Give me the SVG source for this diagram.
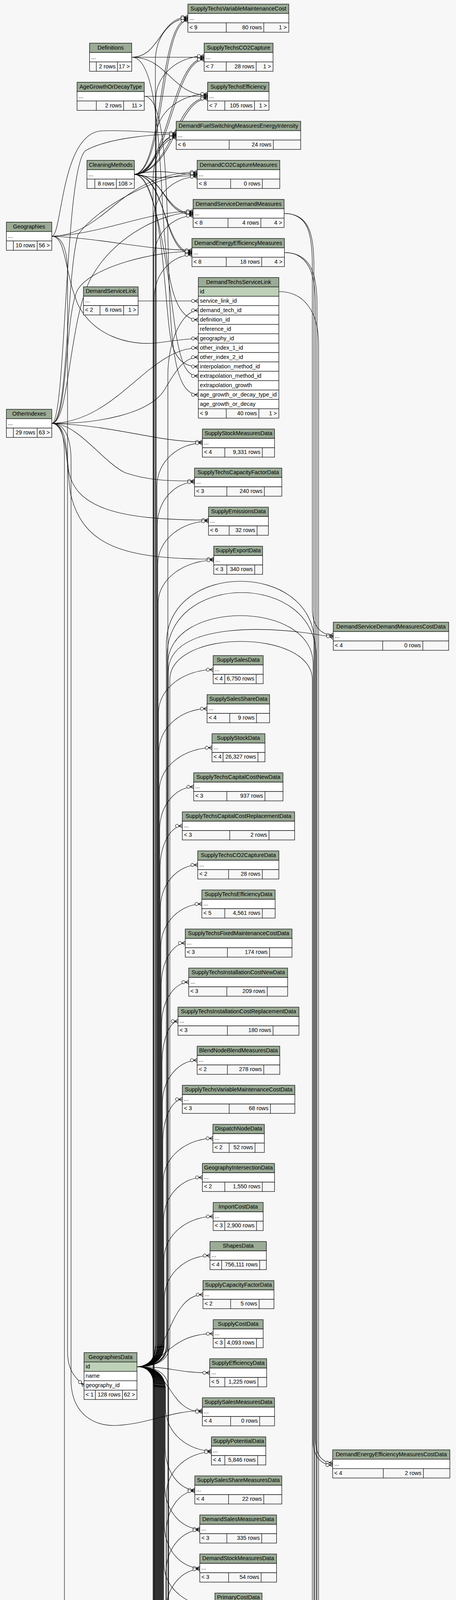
<svg xmlns="http://www.w3.org/2000/svg" width="1168" height="6985" viewBox="0 0 1168 6985">
<style>
text{font-family:"Liberation Sans",Arial,Helvetica,sans-serif;font-size:14.4px;fill:#000}
.c{text-anchor:middle}.e{text-anchor:end}
.t rect,.t path{stroke:#000;stroke-width:1.2}
.t path{fill:none}
.h{fill:#9bab96}.r{fill:#fff}.k{fill:#bed1b8}.f{fill:#f7f7f7}
.t .b{fill:none;stroke-width:3}
.l path{fill:none;stroke:#000;stroke-width:1.1;marker-end:url(#m)}
</style>
<defs>
<marker id="m" viewBox="-20 -8 21 16" refX="0" refY="0" markerWidth="21" markerHeight="16" markerUnits="userSpaceOnUse" orient="auto">
<path d="M-9 0L0 -5M-9 0L0 0M-9 0L0 5" fill="none" stroke="#000" stroke-width="1.2"/>
<circle cx="-13.5" cy="0" r="4" fill="#fff" stroke="#000" stroke-width="1.1"/>
</marker>
</defs>
<rect width="1168" height="6985" fill="#f7f7f7"/>
<g id="connectors" class="l">
<path d="M337.4 146.5C410 146.5 410 43.5 481.2 43.5"/>
<path d="M337.4 146.5L522.9 146.5"/>
<path d="M337.4 146.5C430 146.5 440 243.5 531.8 243.5"/>
<path d="M337.4 146.5C390 146.5 405 300 415 500C425 700 440 818.5 508 818.5"/>
<path d="M369.5 246.5L531.8 246.5"/>
<path d="M369.5 246.5C415 246.5 425 400 430 600C435 850 440 1010.5 508 1010.5"/>
<path d="M344.1 446.5C420 440 405 49.5 481.2 49.5"/>
<path d="M344.1 446.5C425 440 410 52.5 481.2 52.5"/>
<path d="M344.1 446.5C430 440 440 149.5 522.9 149.5"/>
<path d="M344.1 446.5C435 440 445 152.5 522.9 152.5"/>
<path d="M344.1 446.5C440 440 450 249.5 531.8 249.5"/>
<path d="M344.1 446.5C445 440 455 252.5 531.8 252.5"/>
<path d="M344.1 446.5C400 446.5 400 346.5 451.4 346.5"/>
<path d="M344.1 446.5C405 446.5 395 349.5 451.4 349.5"/>
<path d="M344.1 446.5C420 430 440 446.5 505 446.5"/>
<path d="M344.1 446.5C420 462 440 449.5 505 449.5"/>
<path d="M344.1 446.5C420 446.5 420 546.5 494.6 546.5"/>
<path d="M344.1 446.5C425 446.5 415 549.5 494.6 549.5"/>
<path d="M344.1 446.5C425 446.5 420 646.5 491.6 646.5"/>
<path d="M344.1 446.5C430 446.5 415 649.5 491.6 649.5"/>
<path d="M344.1 446.5C420 446.5 420 800 440 880C455 930 480 938.5 508 938.5"/>
<path d="M344.1 446.5C400 446.5 430 700 450 850C465 940 480 962.5 508 962.5"/>
<path d="M132.6 604.7C160 604.7 155 340.5 261 335C330 332 400 340.5 451.4 340.5"/>
<path d="M132.6 604.7C200 604.7 250 560 300 520C370 462 440 440.5 505 440.5"/>
<path d="M132.6 604.7C260 600 380 540.5 494.6 540.5"/>
<path d="M132.6 604.7C260 610 380 640.5 491.6 640.5"/>
<path d="M132.6 604.7C170 604.7 165 700 200 780C240 860 330 885 400 878C450 872 480 866.5 508 866.5"/>
<path d="M132.6 1083.8C170 1083.8 165 420 220 385C280 352 400 343.5 451.4 343.5"/>
<path d="M132.6 1083.8C175 1083.8 170 700 200 600C260 520 420 443.5 505 443.5"/>
<path d="M132.6 1083.8C180 1083.8 175 800 240 700C300 600 420 543.5 494.6 543.5"/>
<path d="M132.6 1083.8C175 1083.8 165 800 200 740C240 680 400 643.5 491.6 643.5"/>
<path d="M132.6 1083.8C300 1080 380 890.5 508 890.5"/>
<path d="M132.6 1083.8C250 1085 380 1060 420 1000C450 950 470 914.5 508 914.5"/>
<path d="M132.6 1083.8C300 1090 400 1131.3 518.4 1131.3"/>
<path d="M132.6 1083.8C200 1083.8 260 1180 320 1210C380 1231 440 1231.3 498.3 1231.3"/>
<path d="M132.6 1083.8C170 1083.8 170 1150 175 1200C190 1300 300 1331.3 534.1 1331.3"/>
<path d="M132.6 1083.8C172 1083.8 172 1200 180 1260C210 1400 320 1431.3 547.5 1431.3"/>
<path d="M132.6 1083.8C165 1083.8 182 1120 182 1180V3540C186 3620 240 3652 300 3649C380 3645 440 3611.3 518.4 3611.3"/>
<path d="M132.6 604.7C160 604.7 173 640 173 700V3460C173 3510 195 3530 215.3 3546.7"/>
<path d="M132.6 1083.8C155 1083.8 165 1110 165 1170V5420C165 5470 195 5495 215.3 5511.2"/>
<path d="M353.8 770.5L508 770.5"/>
<path d="M350.8 3498.7Q398 3498.7 398 3438.7V156.5c0 -65 41.6 -110 83.2 -110"/>
<path d="M350.8 3498.7Q399 3498.7 399 3438.7V253.5c0 -65 62 -110 123.9 -110"/>
<path d="M350.8 3498.7Q400 3498.7 400 3438.7V350.5c0 -65 65.9 -110 131.8 -110"/>
<path d="M350.8 3498.7Q402 3498.7 402 3438.7V1244.3c0 -65 58.2 -110 116.4 -110"/>
<path d="M350.8 3498.7Q403 3498.7 403 3438.7V1344.3c0 -65 47.7 -110 95.3 -110"/>
<path d="M350.8 3498.7Q404 3498.7 404 3438.7V1444.3c0 -65 65 -110 130.1 -110"/>
<path d="M350.8 3498.7Q405 3498.7 405 3438.7V1544.3c0 -65 71.3 -110 142.5 -110"/>
<path d="M350.8 3498.7Q406 3498.7 406 3438.7V1824.3c0 -65 70 -110 140 -110"/>
<path d="M350.8 3498.7Q407 3498.7 407 3438.7V1924.3c0 -65 61.7 -110 123.4 -110"/>
<path d="M350.8 3498.7Q408 3498.7 408 3438.7V2024.3c0 -65 67.5 -110 135 -110"/>
<path d="M350.8 3498.7Q409 3498.7 409 3438.7V2124.3c0 -65 43.6 -110 87.1 -110"/>
<path d="M350.8 3498.7Q410 3498.7 410 3438.7V2224.3c0 -65 28.5 -110 57 -110"/>
<path d="M350.8 3498.7Q411 3498.7 411 3438.7V2324.3c0 -65 47.8 -110 95.5 -110"/>
<path d="M350.8 3498.7Q412 3498.7 412 3438.7V2424.3c0 -65 52.5 -110 105 -110"/>
<path d="M350.8 3498.7Q413 3498.7 413 3438.7V2524.3c0 -65 30.8 -110 61.5 -110"/>
<path d="M350.8 3498.7Q414 3498.7 414 3438.7V2624.3c0 -65 34.7 -110 69.4 -110"/>
<path d="M350.8 3498.7Q415 3498.7 415 3438.7V2724.3c0 -65 20.5 -110 40.9 -110"/>
<path d="M350.8 3498.7Q416 3498.7 416 3438.7V2824.3c0 -65 44.5 -110 89 -110"/>
<path d="M350.8 3498.7Q417 3498.7 417 3438.7V2924.3c0 -65 25 -110 50 -110"/>
<path d="M350.8 3498.7Q418 3498.7 418 3438.7V3024.3c0 -65 63.7 -110 127.3 -110"/>
<path d="M350.8 3498.7Q419 3498.7 419 3438.7V3124.3c0 -65 49.7 -110 99.4 -110"/>
<path d="M350.8 3498.7Q420 3498.7 420 3438.7V3224.3c0 -65 63 -110 126 -110"/>
<path d="M350.8 3498.7Q421 3498.7 421 3438.7V3324.3c0 -65 58.4 -110 116.8 -110"/>
<path d="M350.8 3498.7C430 3498.7 430 3314.3 519.9 3314.3"/>
<path d="M350.8 3498.7C420 3498.7 430 3414.3 546 3414.3"/>
<path d="M350.8 3498.7C440 3498.7 450 3514.3 537 3514.3"/>
<path d="M350.8 3498.7C440 3498.7 430 3614.3 518.4 3614.3"/>
<path d="M350.8 3498.7Q424 3498.7 424 3558.7V3604.3c0 65 58.8 110 117.5 110"/>
<path d="M350.8 3498.7Q423 3498.7 423 3558.7V3704.3c0 65 38 110 76 110"/>
<path d="M350.8 3498.7Q422 3498.7 422 3558.7V3804.3c0 65 44.9 110 89.7 110"/>
<path d="M350.8 3498.7Q421 3498.7 421 3558.7V3904.3c0 65 45.4 110 90.7 110"/>
<path d="M350.8 3498.7Q420 3498.7 420 3558.7V4004.3c0 65 65.3 110 130.5 110"/>
<path d="M350.8 3498.7Q419 3498.7 419 3558.7V4104.3c0 65 48.3 110 96.5 110"/>
<path d="M350.8 3498.7Q418 3498.7 418 3558.7V4204.3c0 65 42.8 110 85.5 110"/>
<path d="M350.8 3498.7Q417 3498.7 417 3558.7V4304.3c0 65 44.8 110 89.5 110"/>
<path d="M350.8 3498.7Q416 3498.7 416 3558.7V4404.3c0 65 25.9 110 51.8 110"/>
<path d="M350.8 3498.7Q415 3498.7 415 3558.7V4504.3c0 65 24.5 110 49 110"/>
<path d="M350.8 3498.7Q414 3498.7 414 3558.7V4604.3c0 65 10.2 110 20.3 110"/>
<path d="M350.8 3498.7Q413 3498.7 413 3558.7V4704.3c0 65 28.2 110 56.3 110"/>
<path d="M350.8 3498.7Q412 3498.7 412 3558.7V4804.3c0 65 13.8 110 27.5 110"/>
<path d="M350.8 3498.7Q411 3498.7 411 3558.7V4904.3c0 65 64.5 110 129 110"/>
<path d="M350.8 3498.7Q410 3498.7 410 3558.7V5004.3c0 65 49 110 98 110"/>
<path d="M350.8 3498.7Q409 3498.7 409 3558.7V5104.3c0 65 30.9 110 61.8 110"/>
<path d="M350.8 3498.7Q408 3498.7 408 3558.7V5204.3c0 65 13.9 110 27.8 110"/>
<path d="M350.8 3498.7Q407 3498.7 407 3558.7V5304.3c0 65 28.5 110 57 110"/>
<path d="M350.8 3498.7Q406 3498.7 406 3558.7V5404.3c0 65 42.5 110 84.9 110"/>
<path d="M350.8 3498.7Q405 3498.7 405 3558.7V5504.3c0 65 47 110 94 110"/>
<path d="M350.8 3498.7Q404 3498.7 404 3558.7V5604.3c0 65 43.5 110 86.9 110"/>
<path d="M350.8 3498.7Q403 3498.7 403 3558.7V5984.3c0 65 70.4 110 140.8 110"/>
<path d="M350.8 3498.7Q402 3498.7 402 3558.7V6084.3c0 65 38.1 110 76.2 110"/>
<path d="M350.8 3498.7Q401 3498.7 401 3558.7V6184.3c0 65 24.1 110 48.2 110"/>
<path d="M350.8 3498.7Q400 3498.7 400 3558.7V6284.3c0 65 48.1 110 96.1 110"/>
<path d="M350.8 3498.7Q399 3498.7 399 3558.7V6384.3c0 65 46 110 91.9 110"/>
<path d="M350.8 3498.7Q398 3498.7 398 3558.7V6484.3c0 65 33.4 110 66.8 110"/>
<path d="M350.8 3498.7Q397 3498.7 397 3558.7V6584.3c0 65 73.4 110 146.8 110"/>
<path d="M350.8 3498.7Q396 3498.7 396 3558.7V6684.3c0 65 55.3 110 110.5 110"/>
<path d="M350.8 3498.7Q395 3498.7 395 3558.7V6784.3c0 65 33.1 110 66.1 110"/>
<path d="M350.8 5463.2Q426 5463.2 426 5403.2V3827.3c0 -65 57.8 -110 115.5 -110"/>
<path d="M350.8 5463.2Q425.5 5463.2 425.5 5403.2V3927.3c0 -65 36.8 -110 73.5 -110"/>
<path d="M350.8 5463.2Q425 5463.2 425 5403.2V4027.3c0 -65 43.4 -110 86.7 -110"/>
<path d="M350.8 5463.2Q424.5 5463.2 424.5 5403.2V4127.3c0 -65 43.6 -110 87.2 -110"/>
<path d="M350.8 5463.2Q424 5463.2 424 5403.2V4227.3c0 -65 63.3 -110 126.5 -110"/>
<path d="M350.8 5463.2Q423.5 5463.2 423.5 5403.2V4327.3c0 -65 46 -110 92 -110"/>
<path d="M350.8 5463.2Q423 5463.2 423 5403.2V4427.3c0 -65 40.3 -110 80.5 -110"/>
<path d="M350.8 5463.2Q422.5 5463.2 422.5 5403.2V4527.3c0 -65 42 -110 84 -110"/>
<path d="M350.8 5463.2Q420.5 5463.2 420.5 5403.2V4530.3c0 -65 43 -110 86 -110"/>
<path d="M350.8 5463.2Q422 5463.2 422 5403.2V4627.3c0 -65 22.9 -110 45.8 -110"/>
<path d="M350.8 5463.2Q420 5463.2 420 5403.2V4630.3c0 -65 23.9 -110 47.8 -110"/>
<path d="M350.8 5463.2Q421.5 5463.2 421.5 5403.2V4727.3c0 -65 21.3 -110 42.5 -110"/>
<path d="M350.8 5463.2Q421 5463.2 421 5403.2V4827.3c0 -65 6.7 -110 13.3 -110"/>
<path d="M350.8 5463.2Q419.5 5463.2 419.5 5403.2V4927.3c0 -65 24.9 -110 49.8 -110"/>
<path d="M350.8 5463.2Q419 5463.2 419 5403.2V5027.3c0 -65 10.3 -110 20.5 -110"/>
<path d="M350.8 5463.2Q418.5 5463.2 418.5 5403.2V5127.3c0 -65 60.8 -110 121.5 -110"/>
<path d="M350.8 5463.2Q417.5 5463.2 417.5 5403.2V5130.3c0 -65 61.3 -110 122.5 -110"/>
<path d="M350.8 5463.2Q417 5463.2 417 5403.2V5227.3c0 -65 45.5 -110 91 -110"/>
<path d="M350.8 5463.2Q416.5 5463.2 416.5 5403.2V5230.3c0 -65 45.8 -110 91.5 -110"/>
<path d="M350.8 5463.2Q416 5463.2 416 5403.2V5327.3c0 -65 27.4 -110 54.8 -110"/>
<path d="M350.8 5463.2Q415.5 5463.2 415.5 5403.2V5330.3c0 -65 27.7 -110 55.3 -110"/>
<path d="M350.8 5463.2C430 5463.2 380 5317.3 435.8 5317.3"/>
<path d="M350.8 5463.2C425 5463.2 385 5320.3 435.8 5320.3"/>
<path d="M350.8 5463.2C420 5463.2 410 5417.3 464 5417.3"/>
<path d="M350.8 5463.2C415 5463.2 415 5420.3 464 5420.3"/>
<path d="M350.8 5463.2C430 5463.2 420 5517.3 490.9 5517.3"/>
<path d="M350.8 5463.2C425 5463.2 425 5520.3 490.9 5520.3"/>
<path d="M350.8 5463.2C440 5463.2 420 5617.3 499 5617.3"/>
<path d="M350.8 5463.2C435 5463.2 425 5620.3 499 5620.3"/>
<path d="M350.8 5463.2Q429 5463.2 429 5523.2V5607.3c0 65 31 110 61.9 110"/>
<path d="M350.8 5463.2Q428.5 5463.2 428.5 5523.2V5610.3c0 65 31.2 110 62.4 110"/>
<path d="M350.8 5463.2Q428 5463.2 428 5523.2V5987.3c0 65 57.9 110 115.8 110"/>
<path d="M350.8 5463.2Q427.5 5463.2 427.5 5523.2V5990.3c0 65 58.2 110 116.3 110"/>
<path d="M350.8 5463.2Q427 5463.2 427 5523.2V6087.3c0 65 25.6 110 51.2 110"/>
<path d="M350.8 5463.2Q426.5 5463.2 426.5 5523.2V6090.3c0 65 25.9 110 51.7 110"/>
<path d="M350.8 5463.2Q426 5463.2 426 5523.2V6187.3c0 65 11.6 110 23.2 110"/>
<path d="M350.8 5463.2Q425.5 5463.2 425.5 5523.2V6190.3c0 65 11.9 110 23.7 110"/>
<path d="M350.8 5463.2Q425 5463.2 425 5523.2V6287.3c0 65 35.6 110 71.1 110"/>
<path d="M350.8 5463.2Q424.5 5463.2 424.5 5523.2V6290.3c0 65 35.8 110 71.6 110"/>
<path d="M350.8 5463.2Q424 5463.2 424 5523.2V6387.3c0 65 33.5 110 66.9 110"/>
<path d="M350.8 5463.2Q423.5 5463.2 423.5 5523.2V6390.3c0 65 33.7 110 67.4 110"/>
<path d="M350.8 5463.2Q423 5463.2 423 5523.2V6487.3c0 65 20.9 110 41.8 110"/>
<path d="M350.8 5463.2Q422.5 5463.2 422.5 5523.2V6490.3c0 65 21.2 110 42.3 110"/>
<path d="M350.8 5463.2Q422 5463.2 422 5523.2V6587.3c0 65 60.9 110 121.8 110"/>
<path d="M350.8 5463.2Q421.5 5463.2 421.5 5523.2V6590.3c0 65 61.2 110 122.3 110"/>
<path d="M350.8 5463.2Q421 5463.2 421 5523.2V6687.3c0 65 42.8 110 85.5 110"/>
<path d="M350.8 5463.2Q420.5 5463.2 420.5 5523.2V6690.3c0 65 43 110 86 110"/>
<path d="M350.8 5463.2Q420 5463.2 420 5523.2V6787.3c0 65 20.6 110 41.1 110"/>
<path d="M350.8 5463.2Q419.5 5463.2 419.5 5523.2V6790.3c0 65 20.8 110 41.6 110"/>
<path d="M350.8 6294.4Q430 6294.4 430 6234.4V960c0 -90 38 -165.5 78 -165.5"/>
<path d="M350.8 6294.4Q392 6294.4 392 6234.4V462.5c0 -65 29.7 -110 59.4 -110"/>
<path d="M350.8 6294.4Q393 6294.4 393 6234.4V562.5c0 -65 56 -110 112 -110"/>
<path d="M350.8 6294.4Q394 6294.4 394 6234.4V662.5c0 -65 50.3 -110 100.6 -110"/>
<path d="M350.8 6294.4Q395 6294.4 395 6234.4V762.5c0 -65 48.3 -110 96.6 -110"/>
<path d="M350.8 6294.4Q396 6294.4 396 6234.4V4621.3c0 -65 35.9 -110 71.8 -110"/>
<path d="M350.8 6294.4Q397 6294.4 397 6234.4V5621.3c0 -65 47 -110 93.9 -110"/>
<path d="M350.8 6294.4Q398 6294.4 398 6234.4V5721.3c0 -65 50.5 -110 101 -110"/>
<path d="M350.8 6294.4Q399 6294.4 399 6234.4V5821.3c0 -65 46 -110 91.9 -110"/>
<path d="M350.8 6294.4Q400 6294.4 400 6234.4V6201.3c0 -65 71.9 -110 143.8 -110"/>
<path d="M350.8 6294.4C430 6294.4 420 6191.3 478.2 6191.3"/>
<path d="M350.8 6294.4L449.2 6294.3"/>
<path d="M350.8 6294.4C430 6294.4 430 6391.3 496.1 6391.3"/>
<path d="M350.8 6294.4Q401 6294.4 401 6354.4V6381.3c0 65 45 110 89.9 110"/>
<path d="M350.8 6294.4Q402 6294.4 402 6354.4V6481.3c0 65 31.4 110 62.8 110"/>
<path d="M350.8 6294.4Q403 6294.4 403 6354.4V6581.3c0 65 70.4 110 140.8 110"/>
<path d="M350.8 6294.4Q404 6294.4 404 6354.4V6781.3c0 65 28.6 110 57.1 110"/>
<path d="M727.7 546.5C790 546.5 800 600 800 680V1560C800 1600 820 1625.8 853.6 1625.8"/>
<path d="M727.7 546.5C792 546.5 804 600 804 680V4790C804 4830 830 4853.6 870 4853.6"/>
<path d="M728.5 646.5C790 646.5 808 700 808 780V3680C808 3720 820 3744.6 852.1 3744.6"/>
<path d="M728.5 646.5C795 646.5 812 700 812 780V5390C812 5430 830 5455 867 5455"/>
<path d="M714.3 746.5C780 746.5 816 800 816 880V5740C816 5790 850 5814 894.6 5814"/>
<path d="M350.8 3498.7Q426 3498.7 426 3438.7V1650C426 1434 806 1434 806 1650V4800C806 4840 835 4859.6 870 4859.6"/>
<path d="M350.8 3498.7Q428 3498.7 428 3438.7V1680C428 1462.7 810 1462.7 810 1680V5400C810 5440 835 5461 867 5461"/>
<path d="M350.8 3498.7Q430 3498.7 430 3438.7V1700C430 1534.7 802 1534.7 802 1700V3690C802 3730 825 3750.6 852.1 3750.6"/>
<path d="M350.8 5463.2Q431 5463.2 431 5403.2V1720C431 1590 700 1600 853.6 1631.8"/>
<path d="M350.8 3498.7Q435 3498.7 435 3438.7V1740C435 1609.3 800 1609.3 800 1740V5410C800 5450 830 5467 867 5467"/>
<path d="M350.8 5463.2Q436 5463.2 436 5523.2V5880C436 6030 830 6030 836 5930C840 5880 860 5862 894.6 5862"/>
<path d="M350.8 5463.2Q438 5463.2 438 5523.2V5900C438 6075 826 6075 832 5960C836 5905 860 5886 894.6 5886"/>
<path d="M350.8 3498.7Q432 3498.7 432 3558.7V5860C432 5990 834 5990 840 5900C844 5855 865 5838 894.6 5838"/>
</g>
<g class="t">
<g id="SupplyTechsVariableMaintenanceCost" transform="translate(481.2 10.5)"><rect class="h" width="258.5" height="24"/><rect class="r" y="24" width="258.5" height="24"/><rect class="f" y="48" width="258.5" height="24"/><path d="M98.3 48v24M194.4 48v24"/><text class="c" x="129.3" y="16">SupplyTechsVariableMaintenanceCost</text><text x="4" y="40">...</text><text x="4" y="64">&lt; 9</text><text class="e" x="189.4" y="64">80 rows</text><text class="e" x="253.5" y="64">1 &gt;</text></g>
<g id="SupplyTechsCO2Capture" transform="translate(522.9 110.5)"><rect class="h" width="176.5" height="24"/><rect class="r" y="24" width="176.5" height="24"/><rect class="f" y="48" width="176.5" height="24"/><path d="M56.6 48v24M133.3 48v24"/><text class="c" x="88.3" y="16">SupplyTechsCO2Capture</text><text x="4" y="40">...</text><text x="4" y="64">&lt; 7</text><text class="e" x="128.3" y="64">28 rows</text><text class="e" x="171.5" y="64">1 &gt;</text></g>
<g id="SupplyTechsEfficiency" transform="translate(531.8 210.5)"><rect class="h" width="157.2" height="24"/><rect class="r" y="24" width="157.2" height="24"/><rect class="f" y="48" width="157.2" height="24"/><path d="M44 48v24M120 48v24"/><text class="c" x="78.6" y="16">SupplyTechsEfficiency</text><text x="4" y="40">...</text><text x="4" y="64">&lt; 7</text><text class="e" x="115" y="64">105 rows</text><text class="e" x="152.2" y="64">1 &gt;</text></g>
<g id="DemandFuelSwitchingMeasuresEnergyIntensity" transform="translate(451.4 310.5)"><rect class="h" width="318.8" height="24"/><rect class="r" y="24" width="318.8" height="24"/><rect class="f" y="48" width="318.8" height="24"/><path d="M135.6 48v24M248.8 48v24"/><text class="c" x="159.4" y="16">DemandFuelSwitchingMeasuresEnergyIntensity</text><text x="4" y="40">...</text><text x="4" y="64">&lt; 6</text><text class="e" x="243.8" y="64">24 rows</text></g>
<g id="DemandCO2CaptureMeasures" transform="translate(505 410.5)"><rect class="h" width="211.6" height="24"/><rect class="r" y="24" width="211.6" height="24"/><rect class="f" y="48" width="211.6" height="24"/><path d="M85.7 48v24M166.9 48v24"/><text class="c" x="105.8" y="16">DemandCO2CaptureMeasures</text><text x="4" y="40">...</text><text x="4" y="64">&lt; 8</text><text class="e" x="161.9" y="64">0 rows</text></g>
<g id="DemandServiceDemandMeasures" transform="translate(494.6 510.5)"><rect class="h" width="233.1" height="24"/><rect class="r" y="24" width="233.1" height="24"/><rect class="f" y="48" width="233.1" height="24"/><path d="M89.4 48v24M173.6 48v24"/><text class="c" x="116.6" y="16">DemandServiceDemandMeasures</text><text x="4" y="40">...</text><text x="4" y="64">&lt; 8</text><text class="e" x="168.6" y="64">4 rows</text><text class="e" x="228.1" y="64">4 &gt;</text></g>
<g id="DemandEnergyEfficiencyMeasures" transform="translate(491.6 610.5)"><rect class="h" width="236.9" height="24"/><rect class="r" y="24" width="236.9" height="24"/><rect class="f" y="48" width="236.9" height="24"/><path d="M87.9 48v24M178.8 48v24"/><text class="c" x="118.5" y="16">DemandEnergyEfficiencyMeasures</text><text x="4" y="40">...</text><text x="4" y="64">&lt; 8</text><text class="e" x="173.8" y="64">18 rows</text><text class="e" x="231.9" y="64">4 &gt;</text></g>
<g id="DemandTechsServiceLink" transform="translate(508 710.5)"><rect class="h" width="206.3" height="24"/><rect class="k" y="24" width="206.3" height="24"/><rect class="r" y="48" width="206.3" height="24"/><rect class="r" y="72" width="206.3" height="24"/><rect class="r" y="96" width="206.3" height="24"/><rect class="r" y="120" width="206.3" height="24"/><rect class="r" y="144" width="206.3" height="24"/><rect class="r" y="168" width="206.3" height="24"/><rect class="r" y="192" width="206.3" height="24"/><rect class="r" y="216" width="206.3" height="24"/><rect class="r" y="240" width="206.3" height="24"/><rect class="r" y="264" width="206.3" height="24"/><rect class="r" y="288" width="206.3" height="24"/><rect class="r" y="312" width="206.3" height="24"/><rect class="f" y="336" width="206.3" height="24"/><path d="M71.5 336v24M155 336v24"/><text class="c" x="103.2" y="16">DemandTechsServiceLink</text><text x="4" y="40">id</text><text x="4" y="64">service_link_id</text><text x="4" y="88">demand_tech_id</text><text x="4" y="112">definition_id</text><text x="4" y="136">reference_id</text><text x="4" y="160">geography_id</text><text x="4" y="184">other_index_1_id</text><text x="4" y="208">other_index_2_id</text><text x="4" y="232">interpolation_method_id</text><text x="4" y="256">extrapolation_method_id</text><text x="4" y="280">extrapolation_growth</text><text x="4" y="304">age_growth_or_decay_type_id</text><text x="4" y="328">age_growth_or_decay</text><text x="4" y="352">&lt; 9</text><text class="e" x="150" y="352">40 rows</text><text class="e" x="201.3" y="352">1 &gt;</text></g>
<g id="SupplyStockMeasuresData" transform="translate(518.4 1098.3)"><rect class="h" width="184.8" height="24"/><rect class="r" y="24" width="184.8" height="24"/><rect class="f" y="48" width="184.8" height="24"/><path d="M57.4 48v24M153.5 48v24"/><text class="c" x="92.4" y="16">SupplyStockMeasuresData</text><text x="4" y="40">...</text><text x="4" y="64">&lt; 4</text><text class="e" x="148.5" y="64">9,331 rows</text></g>
<g id="SupplyTechsCapacityFactorData" transform="translate(498.3 1198.3)"><rect class="h" width="223.5" height="24"/><rect class="r" y="24" width="223.5" height="24"/><rect class="f" y="48" width="223.5" height="24"/><path d="M82.7 48v24M178.8 48v24"/><text class="c" x="111.8" y="16">SupplyTechsCapacityFactorData</text><text x="4" y="40">...</text><text x="4" y="64">&lt; 3</text><text class="e" x="173.8" y="64">240 rows</text></g>
<g id="SupplyEmissionsData" transform="translate(534.1 1298.3)"><rect class="h" width="153.4" height="24"/><rect class="r" y="24" width="153.4" height="24"/><rect class="f" y="48" width="153.4" height="24"/><path d="M52.9 48v24M124.4 48v24"/><text class="c" x="76.7" y="16">SupplyEmissionsData</text><text x="4" y="40">...</text><text x="4" y="64">&lt; 6</text><text class="e" x="119.4" y="64">32 rows</text></g>
<g id="SupplyExportData" transform="translate(547.5 1398.3)"><rect class="h" width="125.1" height="24"/><rect class="r" y="24" width="125.1" height="24"/><rect class="f" y="48" width="125.1" height="24"/><path d="M33.5 48v24M105 48v24"/><text class="c" x="62.6" y="16">SupplyExportData</text><text x="4" y="40">...</text><text x="4" y="64">&lt; 3</text><text class="e" x="100" y="64">340 rows</text></g>
<g id="DemandServiceDemandMeasuresCostData" transform="translate(853.6 1592.8)"><rect class="h" width="295.7" height="24"/><rect class="r" y="24" width="295.7" height="24"/><rect class="f" y="48" width="295.7" height="24"/><path d="M126.7 48v24M229.4 48v24"/><text class="c" x="147.9" y="16">DemandServiceDemandMeasuresCostData</text><text x="4" y="40">...</text><text x="4" y="64">&lt; 4</text><text class="e" x="224.4" y="64">0 rows</text></g>
<g id="SupplySalesData" transform="translate(546 1678.3)"><rect class="h" width="128.1" height="24"/><rect class="r" y="24" width="128.1" height="24"/><rect class="f" y="48" width="128.1" height="24"/><path d="M29.8 48v24M110.2 48v24"/><text class="c" x="64.1" y="16">SupplySalesData</text><text x="4" y="40">...</text><text x="4" y="64">&lt; 4</text><text class="e" x="105.2" y="64">6,750 rows</text></g>
<g id="SupplySalesShareData" transform="translate(530.4 1778.3)"><rect class="h" width="160.1" height="24"/><rect class="r" y="24" width="160.1" height="24"/><rect class="f" y="48" width="160.1" height="24"/><path d="M58.1 48v24M126.6 48v24"/><text class="c" x="80.1" y="16">SupplySalesShareData</text><text x="4" y="40">...</text><text x="4" y="64">&lt; 4</text><text class="e" x="121.6" y="64">9 rows</text></g>
<g id="SupplyStockData" transform="translate(543 1878.3)"><rect class="h" width="135.6" height="24"/><rect class="r" y="24" width="135.6" height="24"/><rect class="f" y="48" width="135.6" height="24"/><path d="M28.3 48v24M117.7 48v24"/><text class="c" x="67.8" y="16">SupplyStockData</text><text x="4" y="40">...</text><text x="4" y="64">&lt; 4</text><text class="e" x="112.7" y="64">26,327 rows</text></g>
<g id="SupplyTechsCapitalCostNewData" transform="translate(496.1 1978.3)"><rect class="h" width="228.7" height="24"/><rect class="r" y="24" width="228.7" height="24"/><rect class="f" y="48" width="228.7" height="24"/><path d="M84.9 48v24M182.5 48v24"/><text class="c" x="114.4" y="16">SupplyTechsCapitalCostNewData</text><text x="4" y="40">...</text><text x="4" y="64">&lt; 3</text><text class="e" x="177.5" y="64">937 rows</text></g>
<g id="SupplyTechsCapitalCostReplacementData" transform="translate(467 2078.3)"><rect class="h" width="287.6" height="24"/><rect class="r" y="24" width="287.6" height="24"/><rect class="f" y="48" width="287.6" height="24"/><path d="M121.5 48v24M222 48v24"/><text class="c" x="143.8" y="16">SupplyTechsCapitalCostReplacementData</text><text x="4" y="40">...</text><text x="4" y="64">&lt; 3</text><text class="e" x="217" y="64">2 rows</text></g>
<g id="SupplyTechsCO2CaptureData" transform="translate(506.5 2178.3)"><rect class="h" width="207.8" height="24"/><rect class="r" y="24" width="207.8" height="24"/><rect class="f" y="48" width="207.8" height="24"/><path d="M79 48v24M165.4 48v24"/><text class="c" x="103.9" y="16">SupplyTechsCO2CaptureData</text><text x="4" y="40">...</text><text x="4" y="64">&lt; 2</text><text class="e" x="160.4" y="64">28 rows</text></g>
<g id="SupplyTechsEfficiencyData" transform="translate(517 2278.3)"><rect class="h" width="187.7" height="24"/><rect class="r" y="24" width="187.7" height="24"/><rect class="f" y="48" width="187.7" height="24"/><path d="M58.8 48v24M154.9 48v24"/><text class="c" x="93.9" y="16">SupplyTechsEfficiencyData</text><text x="4" y="40">...</text><text x="4" y="64">&lt; 5</text><text class="e" x="149.9" y="64">4,561 rows</text></g>
<g id="SupplyTechsFixedMaintenanceCostData" transform="translate(474.5 2378.3)"><rect class="h" width="273.4" height="24"/><rect class="r" y="24" width="273.4" height="24"/><rect class="f" y="48" width="273.4" height="24"/><path d="M108 48v24M216 48v24"/><text class="c" x="136.7" y="16">SupplyTechsFixedMaintenanceCostData</text><text x="4" y="40">...</text><text x="4" y="64">&lt; 3</text><text class="e" x="211" y="64">174 rows</text></g>
<g id="SupplyTechsInstallationCostNewData" transform="translate(483.4 2478.3)"><rect class="h" width="253.3" height="24"/><rect class="r" y="24" width="253.3" height="24"/><rect class="f" y="48" width="253.3" height="24"/><path d="M97.6 48v24M201.1 48v24"/><text class="c" x="126.7" y="16">SupplyTechsInstallationCostNewData</text><text x="4" y="40">...</text><text x="4" y="64">&lt; 3</text><text class="e" x="196.1" y="64">209 rows</text></g>
<g id="SupplyTechsInstallationCostReplacementData" transform="translate(455.9 2578.3)"><rect class="h" width="309.8" height="24"/><rect class="r" y="24" width="309.8" height="24"/><rect class="f" y="48" width="309.8" height="24"/><path d="M126.6 48v24M243.5 48v24"/><text class="c" x="154.9" y="16">SupplyTechsInstallationCostReplacementData</text><text x="4" y="40">...</text><text x="4" y="64">&lt; 3</text><text class="e" x="238.5" y="64">180 rows</text></g>
<g id="BlendNodeBlendMeasuresData" transform="translate(505 2678.3)"><rect class="h" width="211.6" height="24"/><rect class="r" y="24" width="211.6" height="24"/><rect class="f" y="48" width="211.6" height="24"/><path d="M77.5 48v24M170.6 48v24"/><text class="c" x="105.8" y="16">BlendNodeBlendMeasuresData</text><text x="4" y="40">...</text><text x="4" y="64">&lt; 2</text><text class="e" x="165.6" y="64">278 rows</text></g>
<g id="SupplyTechsVariableMaintenanceCostData" transform="translate(467 2778.3)"><rect class="h" width="288.3" height="24"/><rect class="r" y="24" width="288.3" height="24"/><rect class="f" y="48" width="288.3" height="24"/><path d="M120 48v24M225.7 48v24"/><text class="c" x="144.2" y="16">SupplyTechsVariableMaintenanceCostData</text><text x="4" y="40">...</text><text x="4" y="64">&lt; 3</text><text class="e" x="220.7" y="64">68 rows</text></g>
<g id="DispatchNodeData" transform="translate(545.3 2878.3)"><rect class="h" width="131.8" height="24"/><rect class="r" y="24" width="131.8" height="24"/><rect class="f" y="48" width="131.8" height="24"/><path d="M41.7 48v24M108 48v24"/><text class="c" x="65.9" y="16">DispatchNodeData</text><text x="4" y="40">...</text><text x="4" y="64">&lt; 2</text><text class="e" x="103" y="64">52 rows</text></g>
<g id="GeographyIntersectionData" transform="translate(518.4 2978.3)"><rect class="h" width="184.8" height="24"/><rect class="r" y="24" width="184.8" height="24"/><rect class="f" y="48" width="184.8" height="24"/><path d="M57.4 48v24M153.5 48v24"/><text class="c" x="92.4" y="16">GeographyIntersectionData</text><text x="4" y="40">...</text><text x="4" y="64">&lt; 2</text><text class="e" x="148.5" y="64">1,550 rows</text></g>
<g id="ImportCostData" transform="translate(546 3078.3)"><rect class="h" width="128.1" height="24"/><rect class="r" y="24" width="128.1" height="24"/><rect class="f" y="48" width="128.1" height="24"/><path d="M29.8 48v24M111 48v24"/><text class="c" x="64.1" y="16">ImportCostData</text><text x="4" y="40">...</text><text x="4" y="64">&lt; 3</text><text class="e" x="106" y="64">2,900 rows</text></g>
<g id="ShapesData" transform="translate(537.8 3178.3)"><rect class="h" width="144.5" height="24"/><rect class="r" y="24" width="144.5" height="24"/><rect class="f" y="48" width="144.5" height="24"/><path d="M29.8 48v24M127.4 48v24"/><text class="c" x="72.3" y="16">ShapesData</text><text x="4" y="40">...</text><text x="4" y="64">&lt; 4</text><text class="e" x="122.4" y="64">756,111 rows</text></g>
<g id="SupplyCapacityFactorData" transform="translate(519.9 3278.3)"><rect class="h" width="181.8" height="24"/><rect class="r" y="24" width="181.8" height="24"/><rect class="f" y="48" width="181.8" height="24"/><path d="M70.8 48v24M143.8 48v24"/><text class="c" x="90.9" y="16">SupplyCapacityFactorData</text><text x="4" y="40">...</text><text x="4" y="64">&lt; 2</text><text class="e" x="138.8" y="64">5 rows</text></g>
<g id="SupplyCostData" transform="translate(546 3378.3)"><rect class="h" width="128.1" height="24"/><rect class="r" y="24" width="128.1" height="24"/><rect class="f" y="48" width="128.1" height="24"/><path d="M29.8 48v24M111 48v24"/><text class="c" x="64.1" y="16">SupplyCostData</text><text x="4" y="40">...</text><text x="4" y="64">&lt; 3</text><text class="e" x="106" y="64">4,093 rows</text></g>
<g id="SupplyEfficiencyData" transform="translate(537 3478.3)"><rect class="h" width="146" height="24"/><rect class="r" y="24" width="146" height="24"/><rect class="f" y="48" width="146" height="24"/><path d="M38.8 48v24M123.7 48v24"/><text class="c" x="73" y="16">SupplyEfficiencyData</text><text x="4" y="40">...</text><text x="4" y="64">&lt; 5</text><text class="e" x="118.7" y="64">1,225 rows</text></g>
<g id="SupplySalesMeasuresData" transform="translate(518.4 3578.3)"><rect class="h" width="184.8" height="24"/><rect class="r" y="24" width="184.8" height="24"/><rect class="f" y="48" width="184.8" height="24"/><path d="M72.3 48v24M146.8 48v24"/><text class="c" x="92.4" y="16">SupplySalesMeasuresData</text><text x="4" y="40">...</text><text x="4" y="64">&lt; 4</text><text class="e" x="141.8" y="64">0 rows</text></g>
<g id="SupplyPotentialData" transform="translate(541.5 3678.3)"><rect class="h" width="139.3" height="24"/><rect class="r" y="24" width="139.3" height="24"/><rect class="f" y="48" width="139.3" height="24"/><path d="M34.3 48v24M118.5 48v24"/><text class="c" x="69.7" y="16">SupplyPotentialData</text><text x="4" y="40">...</text><text x="4" y="64">&lt; 4</text><text class="e" x="113.5" y="64">5,846 rows</text></g>
<g id="DemandEnergyEfficiencyMeasuresCostData" transform="translate(852.1 3711.6)"><rect class="h" width="300.2" height="24"/><rect class="r" y="24" width="300.2" height="24"/><rect class="f" y="48" width="300.2" height="24"/><path d="M129.6 48v24M232.4 48v24"/><text class="c" x="150.1" y="16">DemandEnergyEfficiencyMeasuresCostData</text><text x="4" y="40">...</text><text x="4" y="64">&lt; 4</text><text class="e" x="227.4" y="64">2 rows</text></g>
<g id="SupplySalesShareMeasuresData" transform="translate(499 3778.3)"><rect class="h" width="222.8" height="24"/><rect class="r" y="24" width="222.8" height="24"/><rect class="f" y="48" width="222.8" height="24"/><path d="M86.5 48v24M176.6 48v24"/><text class="c" x="111.4" y="16">SupplySalesShareMeasuresData</text><text x="4" y="40">...</text><text x="4" y="64">&lt; 4</text><text class="e" x="171.6" y="64">22 rows</text></g>
<g id="DemandSalesMeasuresData" transform="translate(511.7 3878.3)"><rect class="h" width="196.7" height="24"/><rect class="r" y="24" width="196.7" height="24"/><rect class="f" y="48" width="196.7" height="24"/><path d="M69.3 48v24M158.7 48v24"/><text class="c" x="98.4" y="16">DemandSalesMeasuresData</text><text x="4" y="40">...</text><text x="4" y="64">&lt; 3</text><text class="e" x="153.7" y="64">335 rows</text></g>
<g id="DemandStockMeasuresData" transform="translate(511.7 3978.3)"><rect class="h" width="196.7" height="24"/><rect class="r" y="24" width="196.7" height="24"/><rect class="f" y="48" width="196.7" height="24"/><path d="M73.8 48v24M157.2 48v24"/><text class="c" x="98.4" y="16">DemandStockMeasuresData</text><text x="4" y="40">...</text><text x="4" y="64">&lt; 3</text><text class="e" x="152.2" y="64">54 rows</text></g>
<g id="PrimaryCostData" transform="translate(550.5 4078.3)"><rect class="h" width="120.6" height="24"/><rect class="r" y="24" width="120.6" height="24"/><rect class="f" y="48" width="120.6" height="24"/><path d="M32 48v24M102 48v24"/><text class="c" x="60.3" y="16">PrimaryCostData</text><text x="4" y="40">...</text><text x="4" y="64">&lt; 4</text><text class="e" x="97" y="64">848 rows</text></g>
<g id="SupplyExportMeasuresData" transform="translate(515.5 4178.3)"><rect class="h" width="189.2" height="24"/><rect class="r" y="24" width="189.2" height="24"/><rect class="f" y="48" width="189.2" height="24"/><path d="M70 48v24M151.2 48v24"/><text class="c" x="94.6" y="16">SupplyExportMeasuresData</text><text x="4" y="40">...</text><text x="4" y="64">&lt; 3</text><text class="e" x="146.2" y="64">25 rows</text></g>
<g id="SupplyPotentialConversionData" transform="translate(503.5 4278.3)"><rect class="h" width="213.1" height="24"/><rect class="r" y="24" width="213.1" height="24"/><rect class="f" y="48" width="213.1" height="24"/><path d="M82 48v24M169.1 48v24"/><text class="c" x="106.6" y="16">SupplyPotentialConversionData</text><text x="4" y="40">...</text><text x="4" y="64">&lt; 3</text><text class="e" x="164.1" y="64">33 rows</text></g>
<g id="DemandServiceEfficiencyData" transform="translate(506.5 4378.3)"><rect class="h" width="207.8" height="24"/><rect class="r" y="24" width="207.8" height="24"/><rect class="f" y="48" width="207.8" height="24"/><path d="M74.5 48v24M166.1 48v24"/><text class="c" x="103.9" y="16">DemandServiceEfficiencyData</text><text x="4" y="40">...</text><text x="4" y="64">&lt; 5</text><text class="e" x="161.1" y="64">278 rows</text></g>
<g id="DemandTechsFixedMaintenanceCostData" transform="translate(467.8 4478.3)"><rect class="h" width="284.5" height="24"/><rect class="r" y="24" width="284.5" height="24"/><rect class="f" y="48" width="284.5" height="24"/><path d="M113.2 48v24M224.9 48v24"/><text class="c" x="142.3" y="16">DemandTechsFixedMaintenanceCostData</text><text x="4" y="40">...</text><text x="4" y="64">&lt; 4</text><text class="e" x="219.9" y="64">364 rows</text></g>
<g id="StorageTechsCapacityCapitalCostNewData" transform="translate(464 4578.3)"><rect class="h" width="292.8" height="24"/><rect class="r" y="24" width="292.8" height="24"/><rect class="f" y="48" width="292.8" height="24"/><path d="M124.5 48v24M226.5 48v24"/><text class="c" x="146.4" y="16">StorageTechsCapacityCapitalCostNewData</text><text x="4" y="40">...</text><text x="4" y="64">&lt; 4</text><text class="e" x="221.5" y="64">2 rows</text></g>
<g id="StorageTechsCapacityCapitalCostReplacementData" transform="translate(434.3 4678.3)"><rect class="h" width="352.3" height="24"/><rect class="r" y="24" width="352.3" height="24"/><rect class="f" y="48" width="352.3" height="24"/><path d="M154.2 48v24M270.4 48v24"/><text class="c" x="176.2" y="16">StorageTechsCapacityCapitalCostReplacementData</text><text x="4" y="40">...</text><text x="4" y="64">&lt; 4</text><text class="e" x="265.4" y="64">0 rows</text></g>
<g id="StorageTechsEnergyCapitalCostNewData" transform="translate(469.3 4778.3)"><rect class="h" width="282.3" height="24"/><rect class="r" y="24" width="282.3" height="24"/><rect class="f" y="48" width="282.3" height="24"/><path d="M119.2 48v24M218.2 48v24"/><text class="c" x="141.2" y="16">StorageTechsEnergyCapitalCostNewData</text><text x="4" y="40">...</text><text x="4" y="64">&lt; 4</text><text class="e" x="213.2" y="64">9 rows</text></g>
<g id="DemandServiceDemandMeasuresData" transform="translate(870 4820.6)"><rect class="h" width="264.5" height="24"/><rect class="r" y="24" width="264.5" height="24"/><rect class="f" y="48" width="264.5" height="24"/><path d="M107.3 48v24M207.1 48v24"/><text class="c" x="132.3" y="16">DemandServiceDemandMeasuresData</text><text x="4" y="40">...</text><text x="4" y="64">&lt; 4</text><text class="e" x="202.1" y="64">30 rows</text></g>
<g id="StorageTechsEnergyCapitalCostReplacementData" transform="translate(439.5 4878.3)"><rect class="h" width="341.1" height="24"/><rect class="r" y="24" width="341.1" height="24"/><rect class="f" y="48" width="341.1" height="24"/><path d="M149 48v24M262.9 48v24"/><text class="c" x="170.6" y="16">StorageTechsEnergyCapitalCostReplacementData</text><text x="4" y="40">...</text><text x="4" y="64">&lt; 4</text><text class="e" x="257.9" y="64">0 rows</text></g>
<g id="DemandDriversData" transform="translate(540 4978.3)"><rect class="h" width="141.6" height="24"/><rect class="r" y="24" width="141.6" height="24"/><rect class="f" y="48" width="141.6" height="24"/><path d="M31.3 48v24M122.2 48v24"/><text class="c" x="70.8" y="16">DemandDriversData</text><text x="4" y="40">...</text><text x="4" y="64">&lt; 4</text><text class="e" x="117.2" y="64">27,596 rows</text></g>
<g id="DemandEnergyDemandsData" transform="translate(508 5078.3)"><rect class="h" width="204.8" height="24"/><rect class="r" y="24" width="204.8" height="24"/><rect class="f" y="48" width="204.8" height="24"/><path d="M63.3 48v24M170.6 48v24"/><text class="c" x="102.4" y="16">DemandEnergyDemandsData</text><text x="4" y="40">...</text><text x="4" y="64">&lt; 5</text><text class="e" x="165.6" y="64">94,945 rows</text></g>
<g id="DemandFuelSwitchingMeasuresCostData" transform="translate(470.8 5178.3)"><rect class="h" width="280.8" height="24"/><rect class="r" y="24" width="280.8" height="24"/><rect class="f" y="48" width="280.8" height="24"/><path d="M123.6 48v24M215.2 48v24"/><text class="c" x="140.4" y="16">DemandFuelSwitchingMeasuresCostData</text><text x="4" y="40">...</text><text x="4" y="64">&lt; 4</text><text class="e" x="210.2" y="64">1 row</text></g>
<g id="DemandFuelSwitchingMeasuresEnergyIntensityData" transform="translate(435.8 5278.3)"><rect class="h" width="348.6" height="24"/><rect class="r" y="24" width="348.6" height="24"/><rect class="f" y="48" width="348.6" height="24"/><path d="M149.7 48v24M270.3 48v24"/><text class="c" x="174.3" y="16">DemandFuelSwitchingMeasuresEnergyIntensityData</text><text x="4" y="40">...</text><text x="4" y="64">&lt; 4</text><text class="e" x="265.3" y="64">25 rows</text></g>
<g id="DemandFuelSwitchingMeasuresImpactData" transform="translate(464 5378.3)"><rect class="h" width="294.3" height="24"/><rect class="r" y="24" width="294.3" height="24"/><rect class="f" y="48" width="294.3" height="24"/><path d="M123 48v24M230.2 48v24"/><text class="c" x="147.2" y="16">DemandFuelSwitchingMeasuresImpactData</text><text x="4" y="40">...</text><text x="4" y="64">&lt; 4</text><text class="e" x="225.2" y="64">51 rows</text></g>
<g id="DemandEnergyEfficiencyMeasuresData" transform="translate(867 5425)"><rect class="h" width="269" height="24"/><rect class="r" y="24" width="269" height="24"/><rect class="f" y="48" width="269" height="24"/><path d="M109.5 48v24M210.8 48v24"/><text class="c" x="134.5" y="16">DemandEnergyEfficiencyMeasuresData</text><text x="4" y="40">...</text><text x="4" y="64">&lt; 5</text><text class="e" x="205.8" y="64">54 rows</text></g>
<g id="DemandTechsCapitalCostNewData" transform="translate(490.9 5478.3)"><rect class="h" width="240.6" height="24"/><rect class="r" y="24" width="240.6" height="24"/><rect class="f" y="48" width="240.6" height="24"/><path d="M84.9 48v24M193.6 48v24"/><text class="c" x="120.3" y="16">DemandTechsCapitalCostNewData</text><text x="4" y="40">...</text><text x="4" y="64">&lt; 4</text><text class="e" x="188.6" y="64">1,337 rows</text></g>
<g id="DemandTechsAuxEfficiencyData" transform="translate(499 5578.3)"><rect class="h" width="222.8" height="24"/><rect class="r" y="24" width="222.8" height="24"/><rect class="f" y="48" width="222.8" height="24"/><path d="M82 48v24M178.1 48v24"/><text class="c" x="111.4" y="16">DemandTechsAuxEfficiencyData</text><text x="4" y="40">...</text><text x="4" y="64">&lt; 4</text><text class="e" x="173.1" y="64">101 rows</text></g>
<g id="DemandTechsFuelSwitchCostData" transform="translate(490.9 5678.3)"><rect class="h" width="239.1" height="24"/><rect class="r" y="24" width="239.1" height="24"/><rect class="f" y="48" width="239.1" height="24"/><path d="M94.6 48v24M189.2 48v24"/><text class="c" x="119.6" y="16">DemandTechsFuelSwitchCostData</text><text x="4" y="40">...</text><text x="4" y="64">&lt; 4</text><text class="e" x="184.2" y="64">20 rows</text></g>
<g id="DemandTechsServiceLinkData" transform="translate(894.6 5778)"><rect class="h" width="213.8" height="24"/><rect class="r" y="24" width="131.1" height="24"/><rect class="r" x="131.1" y="24" width="82.7" height="24"/><rect class="r" y="48" width="131.1" height="24"/><rect class="r" x="131.1" y="48" width="82.7" height="24"/><rect class="r" y="72" width="131.1" height="24"/><rect class="r" x="131.1" y="72" width="82.7" height="24"/><rect class="r" y="96" width="131.1" height="24"/><rect class="r" x="131.1" y="96" width="82.7" height="24"/><rect class="r" y="120" width="131.1" height="24"/><rect class="r" x="131.1" y="120" width="82.7" height="24"/><rect class="r" y="144" width="131.1" height="24"/><rect class="r" x="131.1" y="144" width="82.7" height="24"/><rect class="k" y="168" width="131.1" height="24"/><rect class="r" x="131.1" y="168" width="82.7" height="24"/><rect class="f" y="192" width="213.8" height="24"/><path d="M51.4 192v24M131.1 192v24"/><rect class="b" width="213.8" height="216"/><text class="c" x="106.9" y="16">DemandTechsServiceLinkData</text><text x="4" y="40">parent_id</text><text x="135" y="40">int4[10]</text><text x="4" y="64">gau_id</text><text x="135" y="64">int4[10]</text><text x="4" y="88">oth_1_id</text><text x="135" y="88">int4[10]</text><text x="4" y="112">oth_2_id</text><text x="135" y="112">int4[10]</text><text x="4" y="136">vintage</text><text x="135" y="136">int4[10]</text><text x="4" y="160">value</text><text x="135" y="160">float4[8,8]</text><text x="4" y="184">id</text><text x="135" y="184">serial[10]</text><text x="4" y="208">&lt; 4</text><text class="e" x="126.1" y="208">740 rows</text><text class="e" x="208.8" y="208">0 &gt;</text></g>
<g id="DemandStockData" transform="translate(543.8 6058.3)"><rect class="h" width="133.3" height="24"/><rect class="r" y="24" width="133.3" height="24"/><rect class="f" y="48" width="133.3" height="24"/><path d="M32 48v24M114.7 48v24"/><text class="c" x="66.7" y="16">DemandStockData</text><text x="4" y="40">...</text><text x="4" y="64">&lt; 5</text><text class="e" x="109.7" y="64">1,687 rows</text></g>
<g id="DemandTechsInstallationCostNewData" transform="translate(478.2 6158.3)"><rect class="h" width="265.2" height="24"/><rect class="r" y="24" width="265.2" height="24"/><rect class="f" y="48" width="265.2" height="24"/><path d="M104.3 48v24M210.8 48v24"/><text class="c" x="132.6" y="16">DemandTechsInstallationCostNewData</text><text x="4" y="40">...</text><text x="4" y="64">&lt; 4</text><text class="e" x="205.8" y="64">251 rows</text></g>
<g id="DemandTechsInstallationCostReplacementData" transform="translate(449.2 6258.3)"><rect class="h" width="322.5" height="24"/><rect class="r" y="24" width="322.5" height="24"/><rect class="f" y="48" width="322.5" height="24"/><path d="M139.3 48v24M249.5 48v24"/><text class="c" x="161.3" y="16">DemandTechsInstallationCostReplacementData</text><text x="4" y="40">...</text><text x="4" y="64">&lt; 4</text><text class="e" x="244.5" y="64">0 rows</text></g>
<g id="DemandTechsMainEfficiencyData" transform="translate(496.1 6358.3)"><rect class="h" width="228.7" height="24"/><rect class="r" y="24" width="228.7" height="24"/><rect class="f" y="48" width="228.7" height="24"/><path d="M79.7 48v24M186.2 48v24"/><text class="c" x="114.4" y="16">DemandTechsMainEfficiencyData</text><text x="4" y="40">...</text><text x="4" y="64">&lt; 4</text><text class="e" x="181.2" y="64">1,784 rows</text></g>
<g id="DemandTechsParasiticEnergyData" transform="translate(490.9 6458.3)"><rect class="h" width="239.1" height="24"/><rect class="r" y="24" width="239.1" height="24"/><rect class="f" y="48" width="239.1" height="24"/><path d="M94.6 48v24M189.2 48v24"/><text class="c" x="119.6" y="16">DemandTechsParasiticEnergyData</text><text x="4" y="40">...</text><text x="4" y="64">&lt; 5</text><text class="e" x="184.2" y="64">21 rows</text></g>
<g id="DemandTechsServiceDemandModifierData" transform="translate(464.8 6558.3)"><rect class="h" width="292" height="24"/><rect class="r" y="24" width="292" height="24"/><rect class="f" y="48" width="292" height="24"/><path d="M125.9 48v24M227.2 48v24"/><text class="c" x="146" y="16">DemandTechsServiceDemandModifierData</text><text x="4" y="40">...</text><text x="4" y="64">&lt; 4</text><text class="e" x="222.2" y="64">5 rows</text></g>
<g id="DemandSalesData" transform="translate(543.8 6658.3)"><rect class="h" width="133.3" height="24"/><rect class="r" y="24" width="133.3" height="24"/><rect class="f" y="48" width="133.3" height="24"/><path d="M32 48v24M114.7 48v24"/><text class="c" x="66.7" y="16">DemandSalesData</text><text x="4" y="40">...</text><text x="4" y="64">&lt; 5</text><text class="e" x="109.7" y="64">3,319 rows</text></g>
<g id="DemandServiceDemandsData" transform="translate(506.5 6758.3)"><rect class="h" width="209.3" height="24"/><rect class="r" y="24" width="209.3" height="24"/><rect class="f" y="48" width="209.3" height="24"/><path d="M69.3 48v24M170.6 48v24"/><text class="c" x="104.7" y="16">DemandServiceDemandsData</text><text x="4" y="40">...</text><text x="4" y="64">&lt; 6</text><text class="e" x="165.6" y="64">4,832 rows</text></g>
<g id="DemandTechsCapitalCostReplacementData" transform="translate(461.1 6858.3)"><rect class="h" width="299.4" height="24"/><rect class="r" y="24" width="299.4" height="24"/><rect class="f" y="48" width="299.4" height="24"/><path d="M129.6 48v24M231.6 48v24"/><text class="c" x="149.7" y="16">DemandTechsCapitalCostReplacementData</text><text x="4" y="40">...</text><text x="4" y="64">&lt; 4</text><text class="e" x="226.6" y="64">0 rows</text></g>
<g id="Definitions" transform="translate(229.4 110.5)"><rect class="h" width="108" height="24"/><rect class="r" y="24" width="108" height="24"/><rect class="f" y="48" width="108" height="24"/><path d="M17.2 48v24M71.5 48v24"/><text class="c" x="54" y="16">Definitions</text><text x="4" y="40">...</text><text class="e" x="66.5" y="64">2 rows</text><text class="e" x="103" y="64">17 &gt;</text></g>
<g id="AgeGrowthOrDecayType" transform="translate(197.4 210.5)"><rect class="h" width="172.1" height="24"/><rect class="r" y="24" width="172.1" height="24"/><rect class="f" y="48" width="172.1" height="24"/><path d="M49.2 48v24M119.2 48v24"/><text class="c" x="86.1" y="16">AgeGrowthOrDecayType</text><text x="4" y="40">...</text><text class="e" x="114.2" y="64">2 rows</text><text class="e" x="167.1" y="64">11 &gt;</text></g>
<g id="CleaningMethods" transform="translate(222.7 410.5)"><rect class="h" width="121.4" height="24"/><rect class="r" y="24" width="121.4" height="24"/><rect class="f" y="48" width="121.4" height="24"/><path d="M20.1 48v24M75.3 48v24"/><text class="c" x="60.7" y="16">CleaningMethods</text><text x="4" y="40">...</text><text class="e" x="70.3" y="64">8 rows</text><text class="e" x="116.4" y="64">108 &gt;</text></g>
<g id="Geographies" transform="translate(16.4 568.7)"><rect class="h" width="116.2" height="24"/><rect class="r" y="24" width="116.2" height="24"/><rect class="f" y="48" width="116.2" height="24"/><path d="M17.9 48v24M78.9 48v24"/><text class="c" x="58.1" y="16">Geographies</text><text x="4" y="40">...</text><text class="e" x="73.9" y="64">10 rows</text><text class="e" x="111.2" y="64">56 &gt;</text></g>
<g id="DemandServiceLink" transform="translate(213.8 734.3)"><rect class="h" width="140" height="24"/><rect class="r" y="24" width="140" height="24"/><rect class="f" y="48" width="140" height="24"/><path d="M42.4 48v24M102.8 48v24"/><text class="c" x="70" y="16">DemandServiceLink</text><text x="4" y="40">...</text><text x="4" y="64">&lt; 2</text><text class="e" x="97.8" y="64">6 rows</text><text class="e" x="135" y="64">1 &gt;</text></g>
<g id="OtherIndexes" transform="translate(16.4 1047.8)"><rect class="h" width="116.2" height="24"/><rect class="r" y="24" width="116.2" height="24"/><rect class="f" y="48" width="116.2" height="24"/><path d="M17.9 48v24M78.9 48v24"/><text class="c" x="58.1" y="16">OtherIndexes</text><text x="4" y="40">...</text><text class="e" x="73.9" y="64">29 rows</text><text class="e" x="111.2" y="64">63 &gt;</text></g>
<g id="GeographiesData" transform="translate(215.3 3462.7)"><rect class="h" width="135.5" height="24"/><rect class="k" y="24" width="135.5" height="24"/><rect class="r" y="48" width="135.5" height="24"/><rect class="r" y="72" width="135.5" height="24"/><rect class="f" y="96" width="135.5" height="24"/><path d="M29 96v24M98.3 96v24"/><text class="c" x="67.8" y="16">GeographiesData</text><text x="4" y="40">id</text><text x="4" y="64">name</text><text x="4" y="88">geography_id</text><text x="4" y="112">&lt; 1</text><text class="e" x="93.3" y="112">128 rows</text><text class="e" x="130.5" y="112">62 &gt;</text></g>
<g id="OtherIndexesData" transform="translate(215.3 5427.2)"><rect class="h" width="135.5" height="24"/><rect class="k" y="24" width="135.5" height="24"/><rect class="r" y="48" width="135.5" height="24"/><rect class="r" y="72" width="135.5" height="24"/><rect class="f" y="96" width="135.5" height="24"/><path d="M29 96v24M98.3 96v24"/><text class="c" x="67.8" y="16">OtherIndexesData</text><text x="4" y="40">id</text><text x="4" y="64">name</text><text x="4" y="88">other_index_id</text><text x="4" y="112">&lt; 1</text><text class="e" x="93.3" y="112">163 rows</text><text class="e" x="130.5" y="112">67 &gt;</text></g>
<g id="DemandTechs" transform="translate(215.3 6258.4)"><rect class="h" width="135.5" height="24"/><rect class="r" y="24" width="135.5" height="24"/><rect class="f" y="48" width="135.5" height="24"/><path d="M29 48v24M98.3 48v24"/><text class="c" x="67.8" y="16">DemandTechs</text><text x="4" y="40">...</text><text x="4" y="64">&lt; 5</text><text class="e" x="93.3" y="64">233 rows</text><text class="e" x="130.5" y="64">24 &gt;</text></g>
</g>
<text x="16.4" y="6969">Generated by SchemaSpy</text>
</svg>
